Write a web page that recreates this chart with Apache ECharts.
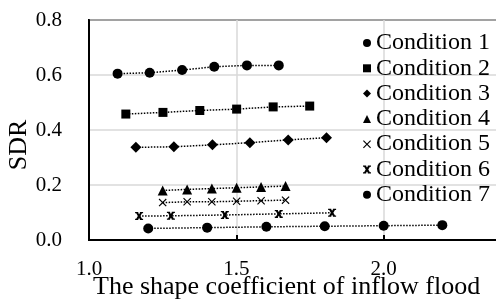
<!DOCTYPE html>
<html>
<head>
<meta charset="utf-8">
<script src="https://cdn.jsdelivr.net/npm/echarts@6/dist/echarts.min.js"></script>
<style>
  html, body { margin: 0; padding: 0; background: #fff; }
  #chart { width: 496px; height: 300px; }
</style>
</head>
<body>
<div id="chart"></div>
<script>
    // values
    var names = ['Condition 1', 'Condition 2', 'Condition 3', 'Condition 4', 'Condition 5', 'Condition 6', 'Condition 7'];
    var c1x = [1.097, 1.206, 1.316, 1.425, 1.536, 1.644];
    var c1y = [0.605, 0.608, 0.618, 0.630, 0.635, 0.635];
    var c2x = [1.125, 1.251, 1.376, 1.501, 1.625, 1.749];
    var c2y = [0.458, 0.464, 0.471, 0.476, 0.484, 0.487];
    var c3x = [1.159, 1.288, 1.419, 1.546, 1.676, 1.806];
    var c3y = [0.337, 0.339, 0.346, 0.354, 0.364, 0.372];
    var c4x = [1.250, 1.333, 1.417, 1.501, 1.584, 1.667];
    var c4y = [0.180, 0.184, 0.187, 0.190, 0.193, 0.196];
    var c5x = [1.250, 1.333, 1.417, 1.501, 1.584, 1.667];
    var c5y = [0.136, 0.139, 0.139, 0.141, 0.143, 0.145];
    var c6x = [1.170, 1.278, 1.461, 1.644, 1.825];
    var c6y = [0.087, 0.088, 0.091, 0.095, 0.099];
    var c7x = [1.201, 1.401, 1.602, 1.800, 2.000, 2.199];
    var c7y = [0.042, 0.045, 0.048, 0.050, 0.052, 0.054];

    var xs = [c1x, c2x, c3x, c4x, c5x, c6x, c7x];
    var ys = [c1y, c2y, c3y, c4y, c5y, c6y, c7y];

    var serif = "'Liberation Serif', 'Times New Roman', serif";
    var crossPath = 'path://M0,1 L1,0 L5,4 L9,0 L10,1 L6,5 L10,9 L9,10 L5,6 L1,10 L0,9 L4,5 Z';
    var starPath = 'path://M0,0 L4,0 L4,1 L5,2.6 L6,1 L6,0 L10,0 L10,1.6 L8.6,1.6 L6.6,5 L8.6,8.4 L10,8.4 L10,10 L6,10 L6,9 L5,7.4 L4,9 L4,10 L0,10 L0,8.4 L1.4,8.4 L3.4,5 L1.4,1.6 L0,1.6 Z';
    var symbols = ['circle', 'rect', 'diamond', 'triangle', crossPath, starPath, 'circle'];
    var sizes = [10, 9, 11, 10, 8, 8, 10];

    var chart = echarts.init(document.getElementById('chart'));

    var series = names.map(function (n, i) {
        return {
            name: n,
            type: 'line',
            data: xs[i].map(function (x, j) { return [x, ys[i][j]]; }),
            symbol: symbols[i],
            symbolSize: sizes[i],
            showAllSymbol: true,
            itemStyle: { color: '#000' },
            lineStyle: { color: '#000', width: 1.5, type: [1.5, 1.5] },
            animation: false
        };
    });

    chart.setOption({
        animation: false,
        grid: {
            // plot runs past the right edge of the picture (2.5 is cut off)
            left: 89, top: 20, width: 442, height: 220,
            outerBoundsMode: 'none',
            containLabel: false,
            show: true, borderColor: '#000', borderWidth: 2,
            backgroundColor: 'transparent'
        },
        legend: {
            orient: 'vertical',
            left: 358,
            top: 26,
            itemWidth: 8,
            itemHeight: 8,
            itemGap: 1.3,
            data: names.map(function (n, i) { return { name: n, icon: symbols[i] }; }),
            textStyle: { fontFamily: serif, fontSize: 24, color: '#000', lineHeight: 24, padding: [0, 0, 0, 0] }
        },
        xAxis: {
            type: 'value',
            min: 1.0,
            max: 2.5,
            interval: 0.5,
            axisLine: { show: true, lineStyle: { color: '#000', width: 2 } },
            axisTick: { show: true, inside: true, length: 5, lineStyle: { color: '#000', width: 2 } },
            axisLabel: {
                fontFamily: serif, fontSize: 21, color: '#000', margin: 19,
                formatter: function (v) { return v.toFixed(1); }
            },
            splitLine: { show: true, lineStyle: { color: '#d9d9d9', width: 1.5 } }
        },
        yAxis: {
            type: 'value',
            min: 0,
            max: 0.8,
            interval: 0.2,
            axisLine: { show: true, lineStyle: { color: '#000', width: 2 } },
            axisTick: { show: false },
            axisLabel: {
                fontFamily: serif, fontSize: 21, color: '#000', margin: 27,
                formatter: function (v) { return v.toFixed(1); }
            },
            splitLine: { show: true, lineStyle: { color: '#d9d9d9', width: 1.5 } }
        },
        graphic: [
            {
                type: 'text', left: 93, top: 274,
                style: { text: 'The shape coefficient of inflow flood', font: '26px ' + serif, fill: '#000' }
            },
            {
                type: 'text', x: 19, y: 145, rotation: Math.PI / 2,
                style: { text: 'SDR', font: '26px ' + serif, fill: '#000', align: 'center', verticalAlign: 'middle' }
            }
        ],
        series: series
    });
</script>
</body>
</html>
